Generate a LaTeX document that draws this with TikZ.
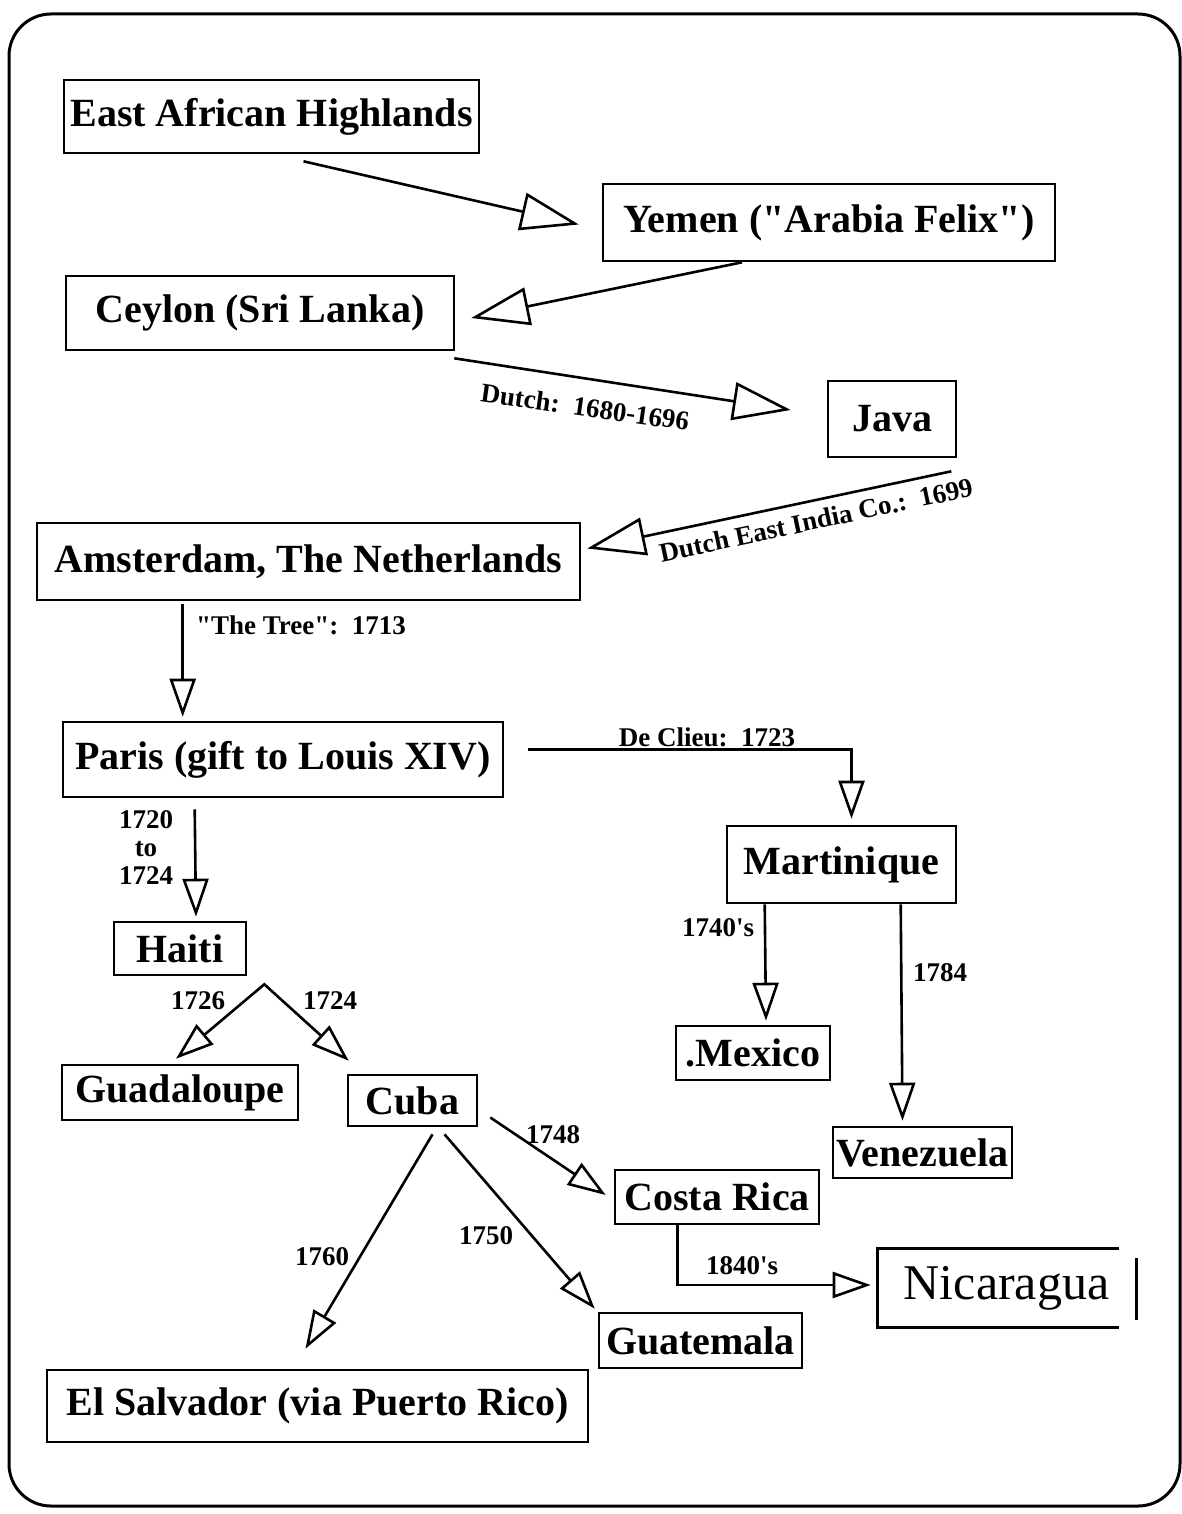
\documentclass[tikz,border=0pt]{standalone}
\usepackage{fontspec}
\setmainfont{Liberation Serif}[Ligatures=TeXOff]
\usetikzlibrary{arrows.meta,calc}
\begin{document}
\begin{tikzpicture}[x=1pt,y=-1pt,
  box/.style={draw, line width=2.6pt, inner sep=0pt, font=\bfseries\fontsize{40}{46}\selectfont},
  lbl/.style={font=\bfseries\fontsize{27}{28}\selectfont, inner sep=0pt, align=center},
  conn/.style={line width=2.6pt},
  big/.style={-{Triangle[open,length=58pt,width=38pt]}},
  small/.style={-{Triangle[open,length=38pt,width=26pt]}},
  smallboth/.style={{Triangle[open,length=38pt,width=26pt]}-{Triangle[open,length=38pt,width=26pt]}},
]
\fill[white] (0,0) rectangle (1182,1514);
\useasboundingbox (0,0) rectangle (1182,1514);
\draw[line width=3pt, rounded corners=42pt] (9,14) rectangle (1180,1506);

% nodes
\node[box, minimum width=415pt, minimum height=73pt] (eah) at (271.5,116.5) {East African Highlands};
\node[box, minimum width=452pt, minimum height=77pt] (yemen) at (829,222.5) {Yemen ("Arabia Felix")};
\node[box, minimum width=388pt, minimum height=74pt] (ceylon) at (260,313) {Ceylon (Sri Lanka)};
\node[box, minimum width=128pt, minimum height=76pt] (java) at (892,419) {Java};
\node[box, minimum width=543pt, minimum height=77pt] (amst) at (308.5,561.5) {Amsterdam, The Netherlands};
\node[box, minimum width=440pt, minimum height=75pt] (paris) at (283,759.5) {Paris (gift to Louis XIV)};
\node[box, minimum width=229pt, minimum height=77pt] (mart) at (841.5,864.5) {Martinique};
\node[box, minimum width=132pt, minimum height=53pt] (haiti) at (180,948.5) {Haiti};
\node[box, minimum width=236pt, minimum height=55pt] (guad) at (180,1092.5) {Guadaloupe};
\node[box, minimum width=129pt, minimum height=51pt] (cuba) at (412.5,1100.5) {Cuba};
\node[box, minimum width=154pt, minimum height=54pt] (mexico) at (753,1053) {.Mexico};
\node[box, minimum width=179pt, minimum height=51pt] (venez) at (922.5,1152.5) {Venezuela};
\node[box, minimum width=204pt, minimum height=54pt] (costa) at (717,1197) {Costa Rica};
\node[box, draw=none, font=\fontsize{50}{56}\selectfont, minimum width=239pt, minimum height=76pt] (nica) at (998.5,1288) {\hspace*{16pt}Nicaragua};
\node[box, minimum width=203pt, minimum height=55pt] (guate) at (700.5,1340.5) {Guatemala};
\node[box, minimum width=541pt, minimum height=72pt] (elsal) at (317.5,1406) {El Salvador (via Puerto Rico)};

% open Nicaragua frame
\draw[conn] (nica.north east) -- (nica.north west) -- (nica.south west) -- (nica.south east);
\draw[conn] ($(nica.east)+(17,-30)$) -- ($(nica.east)+(17,32)$);

% connectors
\draw[conn,big] ($(eah.south)+(32,7)$) -- ($(yemen.west)+(-23,2)$);
\draw[conn,big] ($(yemen.south)+(-87,0)$) -- ($(ceylon.east)+(16,5)$);
\draw[conn,big] ($(ceylon.south east)+(-1,7)$) -- ($(java.west)+(-36,-9)$);
\node[lbl, rotate=-8] (l1) at (585,407) {Dutch:~~1680-1696};
\draw[conn,big] ($(java.south east)+(-6,13)$) -- ($(amst.east)+(6,-13)$);
\node[lbl, rotate=12] (l2) at (816,520) {Dutch East India Co.:~~1699};

\draw[conn,small] ($(amst.south west)+(147,3)$) -- ($(paris.north west)+(121,-4)$);
\node[lbl, anchor=west] (l3) at (196,625) {"The Tree":~~1713};

\draw[conn,small] ($(paris.east)+(24,-10)$) -| ($(mart.north)+(10,-6)$);
\node[lbl] (l4) at (707,737) {De Clieu:~~1723};

\draw[conn,small] ($(paris.south west)+(133,11)$) -- ($(haiti.north)+(16,-4)$);
\node[lbl] (l5) at (146,848) {1720\\to\\1724};

\coordinate (hb) at ($(haiti.south east)+(17,8)$);
\draw[conn,smallboth] ($(guad.north)+(-4,-5)$) -- (hb) -- ($(cuba.north west)+(2,-13)$);
\node[lbl] (l6) at (198,1001) {1726};
\node[lbl] (l7) at (330,1001) {1724};

\draw[conn,small] ($(mart.south west)+(39,0)$) -- ($(mexico.north)+(13,-4)$);
\node[lbl] (l8) at (718,928) {1740's};
\draw[conn,small] ($(mart.south west)+(175,0)$) -- ($(venez.north)+(-20,-5)$);
\node[lbl] (l9) at (940,973) {1784};

\draw[conn,small] ($(cuba.east)+(12,17)$) -- ($(costa.west)+(-8,-2)$);
\node[lbl] (l10) at (553,1135) {1748};
\draw[conn,small] ($(cuba.south)+(20,7)$) -- ($(elsal.north)+(-12,-20)$);
\node[lbl] (l11) at (322,1257) {1760};
\draw[conn,small] ($(cuba.south)+(32,7)$) -- ($(guate.north west)+(-3,-3)$);
\node[lbl] (l12) at (486,1236) {1750};

\draw[conn,small] ($(costa.south west)+(64,0)$) |- ($(nica.west)+(-7,-3)$);
\node[lbl] (l13) at (742,1266) {1840's};
\end{tikzpicture}
\end{document}
